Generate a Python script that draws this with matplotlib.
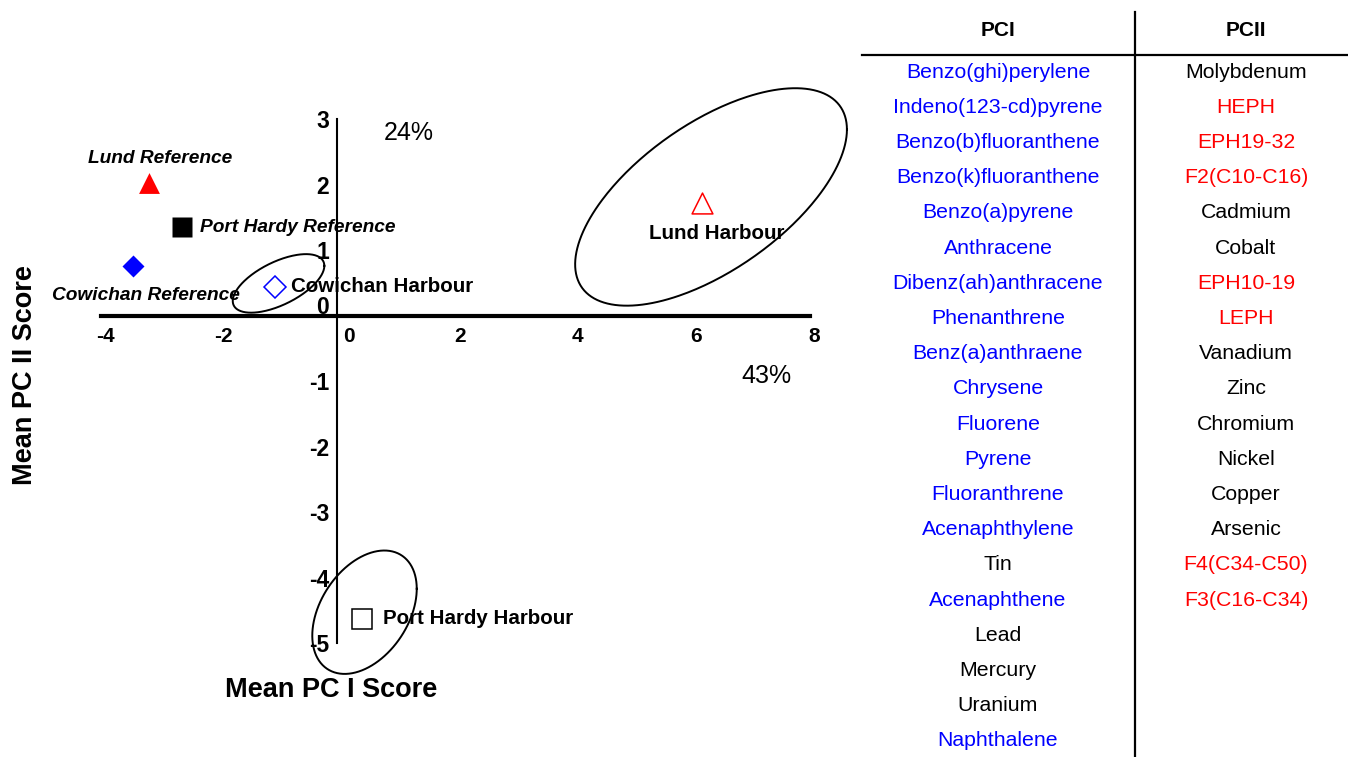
import numpy as np
import matplotlib
matplotlib.use('Agg')
import matplotlib.pyplot as plt
from matplotlib.path import Path

plt.rcParams['font.family'] = ['Liberation Sans', 'DejaVu Sans']

# mean PC scores per site
site_names = ['Lund Reference', 'Port Hardy Reference', 'Cowichan Reference',
              'Cowichan Harbour', 'Lund Harbour', 'Port Hardy Harbour']
pc1 = [-3.19, -2.63, -3.45, -1.05, 6.18, 0.42]
pc2 = [2.02, 1.35, 0.75, 0.44, 1.72, -4.63]
site_marker = ['tri', 's', 'D', 'D', 'tri', 's']
site_color = ['red', 'black', 'blue', 'blue', 'red', 'black']
site_filled = [True, True, True, False, False, False]

# ellipses round the harbour sites (centre, half width, half height, tilt)
ell_cx = [-0.995, 6.325, 0.46]
ell_cy = [0.49, 1.81, -4.53]
ell_hw = [0.775, 2.30, 0.884]
ell_hh = [0.447, 1.66, 0.942]
ell_r = [0.60, 0.62, 0.38]

xticks = [-4, -2, 0, 2, 4, 6, 8]
yticks = [-5, -4, -3, -2, -1, 0, 1, 2, 3]

var_pc1 = '43%'
var_pc2 = '24%'

# loadings table
pci_terms = ['Benzo(ghi)perylene', 'Indeno(123-cd)pyrene', 'Benzo(b)fluoranthene',
             'Benzo(k)fluoranthene', 'Benzo(a)pyrene', 'Anthracene',
             'Dibenz(ah)anthracene', 'Phenanthrene', 'Benz(a)anthraene', 'Chrysene',
             'Fluorene', 'Pyrene', 'Fluoranthrene', 'Acenaphthylene', 'Tin',
             'Acenaphthene', 'Lead', 'Mercury', 'Uranium', 'Naphthalene']
pci_colors = ['blue'] * 14 + ['black', 'blue', 'black', 'black', 'black', 'blue']
pcii_terms = ['Molybdenum', 'HEPH', 'EPH19-32', 'F2(C10-C16)', 'Cadmium', 'Cobalt',
              'EPH10-19', 'LEPH', 'Vanadium', 'Zinc', 'Chromium', 'Nickel', 'Copper',
              'Arsenic', 'F4(C34-C50)', 'F3(C16-C34)']
pcii_colors = ['black', 'red', 'red', 'red', 'black', 'black', 'red', 'red',
               'black', 'black', 'black', 'black', 'black', 'black', 'red', 'red']

W, H = 1348, 757
fig = plt.figure(figsize=(W / 100, H / 100), dpi=100)

# scatter axes, spines through the origin
ax = fig.add_axes([101 / W, (H - 643) / H, 709 / W, 524 / H])
ax.set_xlim(-4, 8)
ax.set_ylim(-5, 3)
ax.patch.set_alpha(0)
for s in ['top', 'right']:
    ax.spines[s].set_visible(False)
ax.spines['left'].set_position(('data', 0))
ax.spines['bottom'].set_position(('data', 0))
ax.spines['left'].set_linewidth(1.5)
ax.spines['bottom'].set_linewidth(3)
ax.set_xticks([])
ax.set_yticks([])

for v in xticks:
    dx = 8 if v == 0 else 3
    ax.annotate(str(v), (v, 0), xytext=(dx, -15), textcoords='offset points',
                ha='center', va='center', fontsize=15, fontweight='bold')
for v in yticks:
    dy = 6 if v == 0 else -2
    ax.annotate(str(v), (0, v), xytext=(-6, dy), textcoords='offset points',
                ha='right', va='center', fontsize=16.5, fontweight='bold')

# ellipses
t = np.linspace(0, 2 * np.pi, 300)
for cx, cy, hw, hh, r in zip(ell_cx, ell_cy, ell_hw, ell_hh, ell_r):
    ex = cx + hw * np.cos(t)
    ey = cy + hh * (r * np.cos(t) + np.sqrt(1 - r ** 2) * np.sin(t))
    ax.plot(ex, ey, color='black', lw=1.4, clip_on=False)

# site markers and labels
tri = Path([(-1, -1), (1, -1), (0, 1), (-1, -1)], closed=True)
marker_map = {'tri': (tri, 15), 's': ('s', 14.5), 'D': ('D', 10.8)}
label_off = [(8, 18, 'center', 'italic'), (13, 0, 'left', 'italic'),
             (9, -21, 'center', 'italic'), (11, 0, 'left', 'normal'),
             (10, -22, 'center', 'normal'), (15, 0, 'left', 'normal')]
for i in range(len(site_names)):
    m, ms = marker_map[site_marker[i]]
    if site_filled[i]:
        ax.plot(pc1[i], pc2[i], marker=m, ms=ms, color=site_color[i],
                mec='none', ls='none', clip_on=False)
    else:
        ax.plot(pc1[i], pc2[i], marker=m, ms=ms, mfc='white',
                mec=site_color[i], mew=1.1, ls='none', clip_on=False)
    dx, dy, ha, st = label_off[i]
    fs = 13.8 if st == 'italic' else 14.8
    ax.annotate(site_names[i], (pc1[i], pc2[i]), xytext=(dx, dy),
                textcoords='offset points', ha=ha, va='center',
                fontsize=fs, fontweight='bold', style=st)

fig.text(409 / W, 1 - 133 / H, var_pc2, fontsize=18, ha='center', va='center')
fig.text(766 / W, 1 - 376 / H, var_pc1, fontsize=18, ha='center', va='center')
fig.text(25 / W, 1 - 375 / H, 'Mean PC II Score', rotation=90, fontsize=19.5,
         fontweight='bold', ha='center', va='center')
fig.text(331 / W, 1 - 690 / H, 'Mean PC I Score', fontsize=19.5,
         fontweight='bold', ha='center', va='center')

# table on the right, drawn in pixel units
tab = fig.add_axes([0, 0, 1, 1])
tab.set_xlim(0, W)
tab.set_ylim(H, 0)
tab.axis('off')
tab.plot([862, W], [55, 55], color='black', lw=1.6)
tab.plot([1135, 1135], [12, H], color='black', lw=1.6)
col1, col2 = 998, 1246
tab.text(col1, 31, 'PCI', fontsize=15, fontweight='bold', ha='center', va='center')
tab.text(col2, 31, 'PCII', fontsize=15, fontweight='bold', ha='center', va='center')
row0, step = 72, 35.2
for i, (term, c) in enumerate(zip(pci_terms, pci_colors)):
    tab.text(col1, row0 + i * step, term, color=c, fontsize=15.3, ha='center', va='center')
for i, (term, c) in enumerate(zip(pcii_terms, pcii_colors)):
    tab.text(col2, row0 + i * step, term, color=c, fontsize=15.3, ha='center', va='center')

fig.savefig('out.png', dpi=100)
